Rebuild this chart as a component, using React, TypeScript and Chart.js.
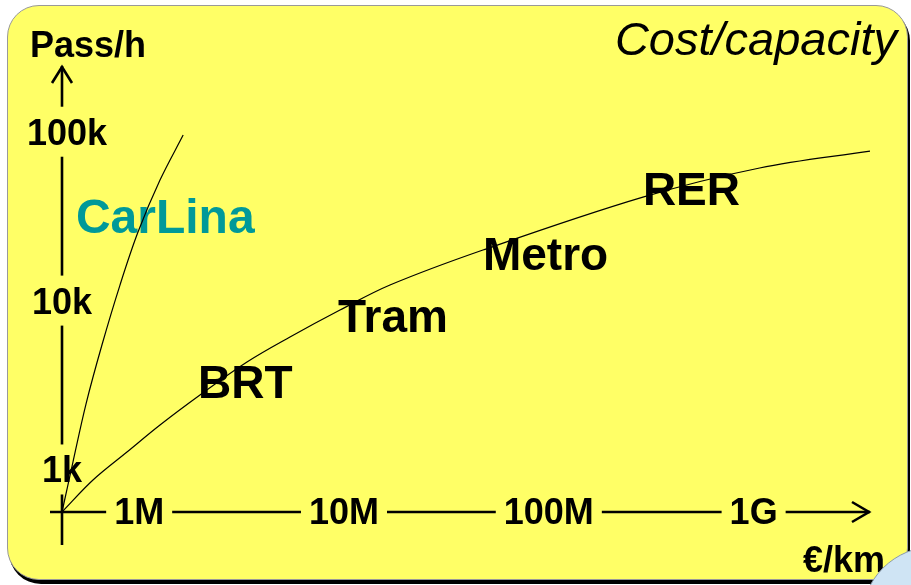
import React, { useEffect, useRef } from "react";
import { Chart, registerables } from "chart.js";

Chart.register(...registerables);

// ---- data ----
const xTickValues = [1e6, 1e7, 1e8, 1e9];
const xTickLabels = ["1M", "10M", "100M", "1G"];
const yTickValues = [1e3, 1e4, 1e5];
const yTickLabels = ["1k", "10k", "100k"];
const xRange = [4.2e5, 3.7e9];
const yRange = [560, 2.45e5];

const modeCost = [4.2e5, 5.95e5, 8.72e5, 1.264e6, 1.981e6, 3.36e6, 5.45e6, 9.56e6, 1.677e7, 4.77e7, 2.88e8, 1.07e9, 3.7e9];
const modeCapacity = [560, 866, 1268, 1833, 2759, 4326, 6084, 8790, 12360, 19920, 41000, 61000, 76800];
const carlinaCost = [4.2e5, 4.75e5, 5.5e5, 6.58e5, 8.06e5, 9.87e5, 1.264e6, 1.64e6];
const carlinaCapacity = [560, 1107, 2440, 5457, 12360, 25450, 51730, 95500];

const labelNames = ["CarLina", "BRT", "Tram", "Metro", "RER"];
const labelCost = [4.91e5, 1.94e6, 9.35e6, 4.77e7, 2.88e8];
const labelCapacity = [25100, 2650, 6516, 15200, 36800];
const labelColors = ["#009999", "#000000", "#000000", "#000000", "#000000"];

const FONT = '"Liberation Sans", Arial, sans-serif';
const YELLOW = "#FFFF66";

const axesPlugin = {
  id: "schematicAxes",
  beforeDatasetsDraw(chart: any) {
    const ctx = chart.ctx as CanvasRenderingContext2D;
    const xs = chart.scales.x;
    const ys = chart.scales.y;
    const ox = xs.getPixelForValue(xRange[0]);
    const oy = ys.getPixelForValue(yRange[0]);
    const xEnd = xs.right;
    const yEnd = ys.top;
    ctx.save();
    ctx.strokeStyle = "#000";
    ctx.lineWidth = 2.6;
    ctx.lineCap = "butt";
    // axis lines
    ctx.beginPath();
    ctx.moveTo(ox, oy + 33);
    ctx.lineTo(ox, yEnd);
    ctx.moveTo(ox - 12, oy);
    ctx.lineTo(xEnd, oy);
    ctx.stroke();
    // arrow heads
    ctx.lineJoin = "miter";
    ctx.beginPath();
    ctx.moveTo(ox - 10, yEnd + 17);
    ctx.lineTo(ox, yEnd + 1);
    ctx.lineTo(ox + 10, yEnd + 17);
    ctx.moveTo(xEnd - 18, oy - 10);
    ctx.lineTo(xEnd - 1, oy);
    ctx.lineTo(xEnd - 18, oy + 10);
    ctx.stroke();

    // tick labels
    ctx.font = `bold 36px ${FONT}`;
    ctx.textBaseline = "alphabetic";
    ctx.textAlign = "center";
    xTickValues.forEach((v, i) => {
      const px = xs.getPixelForValue(v);
      const w = ctx.measureText(xTickLabels[i]).width;
      ctx.fillStyle = YELLOW;
      ctx.fillRect(px - w / 2 - 8, oy - 4, w + 16, 8);
      ctx.fillStyle = "#000";
      ctx.fillText(xTickLabels[i], px, oy + 12);
    });
    yTickValues.forEach((v, i) => {
      const py = ys.getPixelForValue(v);
      ctx.fillStyle = YELLOW;
      ctx.fillRect(ox - 4, py - 25, 8, 50);
      ctx.fillStyle = "#000";
      ctx.fillText(yTickLabels[i], ox + (i === 2 ? 5 : 0), py + 13);
    });

    // axis titles
    ctx.textAlign = "left";
    ctx.fillText("Pass/h", 30, 57);
    ctx.fillText("\u20AC/km", 803, 572);
    ctx.font = `italic 47px ${FONT}`;
    ctx.textAlign = "right";
    ctx.fillText("Cost/capacity", 897, 55);

    // mode labels
    ctx.textAlign = "left";
    labelNames.forEach((name, i) => {
      ctx.font = `bold ${i === 0 ? 48 : 46}px ${FONT}`;
      ctx.fillStyle = labelColors[i];
      ctx.fillText(name, xs.getPixelForValue(labelCost[i]), ys.getPixelForValue(labelCapacity[i]));
    });
    ctx.restore();
  },
};

export default function App() {
  const ref = useRef<HTMLCanvasElement | null>(null);
  useEffect(() => {
    if (!ref.current) return;
    const chart = new Chart(ref.current, {
      type: "line",
      data: {
        datasets: [
          {
            label: "Modes",
            data: modeCost.map((c, i) => ({ x: c, y: modeCapacity[i] })),
            borderColor: "#000",
            borderWidth: 1.2,
            pointRadius: 0,
            tension: 0.35,
            fill: false,
            clip: false as any,
          },
          {
            label: "CarLina",
            data: carlinaCost.map((c, i) => ({ x: c, y: carlinaCapacity[i] })),
            borderColor: "#000",
            borderWidth: 1.2,
            pointRadius: 0,
            tension: 0.35,
            fill: false,
            clip: false as any,
          },
        ],
      },
      options: {
        animation: false,
        responsive: false,
        maintainAspectRatio: false,
        layout: { padding: { left: 62, top: 66, right: 41, bottom: 73 } },
        plugins: { legend: { display: false }, tooltip: { enabled: false } },
        events: [],
        scales: {
          x: { type: "logarithmic", min: xRange[0], max: xRange[1], display: false },
          y: { type: "logarithmic", min: yRange[0], max: yRange[1], display: false },
        },
      },
      plugins: [axesPlugin],
    });
    return () => chart.destroy();
  }, []);

  return (
    <div
      style={{
        position: "fixed",
        left: 0,
        top: 0,
        width: 911,
        height: 585,
        overflow: "hidden",
        background: "#ffffff",
      }}
    >
      <div
        style={{
          position: "absolute",
          left: 7,
          top: 5,
          width: 901,
          height: 575,
          boxSizing: "border-box",
          background: YELLOW,
          border: "1px solid #999999",
          borderRadius: 32,
          boxShadow: "2px 4px 0 #000000",
        }}
      />
      <canvas
        ref={ref}
        width={911}
        height={585}
        style={{ position: "absolute", left: 0, top: 0, width: 911, height: 585 }}
      />
      <div
        style={{
          position: "absolute",
          left: 935 - 74,
          top: 620 - 74,
          width: 148,
          height: 148,
          boxSizing: "border-box",
          borderRadius: "50%",
          background: "#CFE4F4",
          border: "1px solid #8a9aaa",
        }}
      />
    </div>
  );
}
